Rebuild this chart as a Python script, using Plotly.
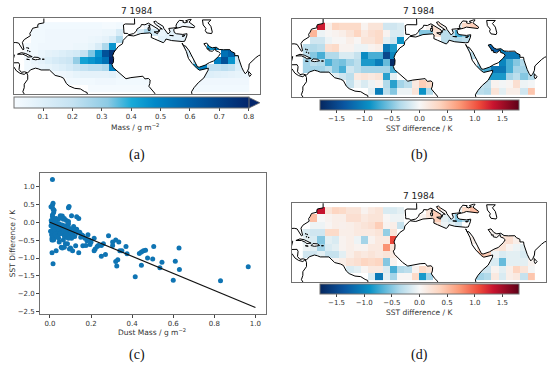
import plotly.graph_objects as go

W, H = 550, 368
_ = None

# ---------- grid (5 degree cells) ----------
lon_centres = [-77.5 + 5 * j for j in range(32)]
lat_centres = [42.5 - 5 * n for n in range(10)]

# ---------- panel (a): dust mass ----------
mass_a = [
 [_,_,.02,.02,.02,.02,.02,.02,.02,.02,.02,.01,.01,.02,_,_,_,.03,.02,.02,_,.02,.02,.02,.02,_,_,_,_,_,_,_],
 [_,.02,.02,.03,.03,.03,.03,.03,.03,.03,.03,.04,.04,.12,_,_,.12,.25,.15,.05,.08,.08,.08,_,_,_,_,_,_,_,_,_],
 [_,.02,.02,.03,.03,.03,.03,.03,.03,.04,.05,.07,.12,.24,_,_,_,_,_,.08,.08,.08,.08,_,_,_,_,_,_,_,_,_],
 [.01,.02,.03,.03,.03,.03,.03,.04,.04,.06,.12,.25,.45,_,_,_,_,_,_,_,_,_,.08,_,_,_,.45,.5,.5,_,_,_],
 [.02,.02,.05,.07,.08,.1,.12,.14,.2,.33,.45,.65,.75,_,_,_,_,_,_,_,_,_,_,.12,_,_,_,_,.55,.6,.3,_],
 [.02,.05,.07,.1,.13,.15,.17,.3,.42,.45,.48,.55,.85,_,_,_,_,_,_,_,_,_,_,_,.25,_,_,.5,.65,.45,.15,.05],
 [.02,.03,.05,.06,.08,.1,.13,.17,.2,.22,.22,.25,.5,_,_,_,_,_,_,_,_,_,_,_,.45,.5,.2,.2,.22,.2,.1,.05],
 [_,_,_,_,.02,.03,.04,.06,.07,.07,.07,.07,.08,.04,_,_,_,_,_,_,_,_,_,_,_,.1,.1,.09,.08,.07,.06,.05],
 [_,_,_,_,_,_,.02,.02,.02,.02,.03,.03,.03,.02,.02,.02,.02,.02,_,_,_,_,_,_,.03,.03,.03,.03,.03,.03,.03,.03],
 [_,_,_,_,_,_,_,_,_,.01,.01,.01,.01,.01,.01,.01,.01,.01,_,_,_,_,_,.02,.02,.02,.02,.02,.02,.02,.02,.02],
]

# ---------- panel (b): SST difference ----------
sst_b = [
 [_,_,1.3,.1,.35,.3,.3,.3,.05,.2,.2,-.2,-.2,-.15,_,_,_,.05,.25,.05,_,-.1,.3,.4,.35,_,_,_,_,_,_,_],
 [_,.55,-.05,.02,.05,.1,.2,.35,.15,.25,.3,.05,-.15,-.15,_,_,-.5,-.5,.2,-.3,-.3,-.7,-.5,_,_,_,_,_,_,_,_,_],
 [_,-.2,-.2,-.05,.02,.02,.1,.02,.2,.2,.3,-.1,-.2,-.9,_,_,_,_,_,-.3,-.3,-.35,-.3,_,_,_,_,_,_,_,_,_],
 [-.3,-.35,-.3,.25,.3,.05,.05,-.05,-.05,.05,.1,-1.1,-.85,_,_,_,_,_,_,_,_,_,-.3,_,_,-1.2,-1.3,-1.0,_,_,_,_],
 [-.3,-.5,-.7,-.35,-.35,-.15,-.15,-.25,-.95,-.7,-.7,-1.5,-1.0,_,_,_,_,_,_,_,_,_,_,-.3,_,_,_,-1.1,-1.1,-1.1,_,_],
 [-.4,-.3,-.35,-.7,-.5,-.55,-.4,-.3,-.85,-.85,-1.05,-.6,-1.75,_,_,_,_,_,_,_,_,_,_,_,-.4,_,_,-1.0,-.7,-.5,-.35,-.2],
 [-.4,-.4,-.4,-.3,-.5,-.7,-.2,-.3,-.4,-.4,-.4,-.4,-.7,_,_,_,_,_,_,_,_,_,_,_,-.6,-.7,-1.1,-1.1,-.7,-.4,-.4,-.2],
 [_,_,_,_,-.1,-.2,-.3,.15,.2,.15,.2,-.8,-.1,_,_,_,_,_,_,_,_,_,_,_,_,-.8,-.85,-.85,-.4,-.3,-.5,-.35],
 [_,_,_,_,_,_,-.25,-.05,-.15,-.05,.05,-.35,-.8,-.4,-.3,.15,.4,.3,_,_,_,_,_,_,-.25,-.3,.05,-.02,.03,.25,-.05,-.02],
 [_,_,_,_,_,_,_,_,_,-.1,-1.05,-.3,-.5,-.05,-.05,.2,-.9,-.35,_,_,_,_,_,-.3,-.3,-.35,.2,-.1,.1,.1,-.2,.45],
]

# ---------- panel (d): SST difference ----------
sst_d = [
 [_,_,1.35,.2,.35,.3,.2,.2,.05,.15,.2,-.15,-.15,-.1,_,_,_,.2,.4,.05,_,-.05,.3,.5,.45,_,_,_,_,_,_,_],
 [_,.5,.0,.05,.1,.1,.25,.25,.15,.2,.2,.02,-.05,-.05,_,_,.05,.2,.4,-.1,-.2,-.5,-.35,_,_,_,_,_,_,_,_,_],
 [_,-.05,-.05,.03,.1,.08,.1,.15,.2,.25,.4,.05,.1,-.25,_,_,_,_,.2,-.05,-.1,-.2,_,_,_,_,_,_,_,_,_,_],
 [-.15,-.2,-.2,.3,.3,.1,.1,.15,.15,.15,.2,-.45,.2,_,_,_,_,_,_,_,_,_,.0,_,_,.05,.05,-.05,_,_,_,_],
 [-.1,-.15,-.5,-.1,-.15,.05,.1,-.05,-.4,.05,.15,.15,1.1,_,_,_,_,_,_,_,_,_,_,.1,_,_,_,.2,.25,.1,_,_],
 [-.05,-.1,-.4,-.15,-.1,.05,.1,.05,.05,.15,.15,.75,.2,_,_,_,_,_,_,_,_,_,_,_,.2,_,.15,.2,.05,-.05,-.1,-.05],
 [-.2,-.2,-.1,-.25,-.25,-.1,.1,.2,.15,.2,.15,.2,.15,_,_,_,_,_,_,_,_,_,_,_,.5,.4,-.05,-.15,-.1,-.1,-.15,-.05],
 [_,_,_,_,.03,.1,.2,.25,.35,.3,.35,-.5,.05,_,_,_,_,_,_,_,_,_,_,_,_,-.1,-.15,-.6,-.1,-.1,-.1,.05],
 [_,_,_,_,_,_,-.15,-.1,.03,.15,.15,-.15,-.7,-.35,-.3,.05,.3,.2,_,_,_,_,_,_,-.2,-.2,.05,-.1,.1,.35,.2,-.02],
 [_,_,_,_,_,_,_,_,_,-.15,-1.1,-.1,-.4,.02,.02,.3,-.85,-.4,_,_,_,_,_,-.4,-.4,-.35,.15,-.15,.1,.15,-.25,.45],
]

# ---------- panel (c): scatter ----------
dust_mass = [
 .012,.015,.005,.012,.015,.02,.018,.012,.09,.093,.105,.13,.14,.05,.06,.03,.04,.07,.08,.09,
 .01,.03,.015,.14,.11,.095,.1,.075,.085,.06,.055,.07,.065,.045,.125,.16,.175,.195,.185,.215,
 .22,.215,.235,.23,.25,.26,.25,.27,.285,.305,.305,.32,.335,.32,.325,.33,.34,.35,.37,.375,
 .415,.435,.445,.445,.455,.465,.475,.5,.505,.535,.545,.6,.61,.628,.63,.83,.965,
 .003,.005,.006,.008,.01,.012,.014,.016,.018,.02,.022,.025,.028,.03,.033,.036,.04,.044,.048,.05,
 .055,.06,.065,.07,.075,.08,.085,.09,.095,.1,.105,.11,.115,.12,.125,.13,.135,.145,.15,.155,
 .008,.012,.016,.02,.024,.028,.032,.038,.042,.046,.052,.058,.064,.07,.076,.082,.088,.094,.1,.11,
 .01,.014,.018,.022,.026,.03,.035,.04,.05,.06,.07,.08,.09,.12,.17,.19,.2,.09,.16,.18,
]
sst_difference = [
 1.19,.53,.43,.47,.37,.33,.27,.2,.4,.44,.18,.15,.1,.18,.17,.1,.08,.1,.05,.02,
 -.85,-.8,-1.16,-.85,-.8,-.75,-.72,-.6,-.6,-.72,-.7,-.7,-.5,-.55,-.66,-.66,-.65,-.62,-.35,-.45,
 -.75,-.8,-.65,-.68,-.65,-.6,-.95,-.9,-.38,-.65,-.55,-.5,-.55,-1.1,-1.22,-1.05,-.8,-.8,-.68,-.88,
 -1.52,-.87,-.83,-1.2,-.8,-.78,-1.0,-1.03,-.68,-1.27,-1.12,-1.62,-1.09,-.72,-1.32,-1.63,-1.24,
 -.25,-.1,.05,-.35,-.45,.15,-.2,-.5,.1,-.3,-.05,-.4,-.15,.02,-.28,-.12,-.35,-.05,-.22,.12,
 -.3,-.18,.08,-.38,-.1,-.42,-.25,-.05,-.32,-.2,-.45,-.3,-.12,-.4,-.25,-.2,-.3,-.28,-.42,-.36,
 .0,-.3,-.42,-.15,.05,-.35,-.1,-.25,-.45,-.05,-.3,-.12,-.28,-.38,-.2,-.32,-.15,-.4,-.28,-.38,
 -.5,-.38,-.48,-.22,-.33,-.08,-.4,-.18,-.32,-.08,-.24,-.34,-.45,-.2,-.45,-.5,-.55,-.15,-.38,-.52,
]
fit_mass = [0.0, 1.0]
fit_diff = [0.0, -2.38]

# ---------- coastlines (lon, lat) ----------
americas = [(-66,50),(-66,44.5),(-70,43.7),(-70.5,42),(-70,41.6),(-74,40.6),(-75,38.5),(-76,37),(-75.6,35.3),
 (-78,33.9),(-80,32.5),(-81.3,30.5),(-80.3,27),(-80.2,25.6),(-81,25.2),(-82.7,27.8),(-84,30),(-86,30.4),(-89,30.2),
 (-89.3,29.1),(-91,29.3),(-97,28),(-97.7,22),(-95,18.6),(-91,18.7),(-90.4,21),(-87,21.5),(-88,17.5),(-88.5,15.8),(-84,15.9),
 (-83.3,14.5),(-83.7,11),(-82,9),(-79.8,9.4),(-77.5,8.6),(-75.5,10.8),(-72,12),(-70,11.5),(-68,10.7),(-62,10.7),
 (-60,8.5),(-58,6.8),(-54,5.8),(-52,4.8),(-50,1),(-48,-0.8),(-44,-2.5),(-40,-2.9),(-37,-4.8),(-35.2,-5.5),(-34.8,-8),(-36,-11),
 (-78,-11),(-79,-8),(-81,-5),(-80,-2),(-80,0.5),(-78.7,2),(-77.5,4),(-77.5,7),(-78.5,8.8),(-80,7.5),(-83,8.3),(-85.5,10),(-87.5,13),
 (-91,14),(-100,16),(-100,50)]
afro_eurasia = [(-1.5,50),(-1.5,46),(-1.3,43.6),(-8,43.7),(-9.3,43),(-9,38.7),(-8.9,37),(-6.3,36.9),(-5.5,36),
 (-2,36.8),(0,38.7),(0.3,40),(3,41.8),(3.5,43.3),(6,43.1),(8.5,44.3),(10.5,43),(12.5,41.5),(15.5,40),(16,38),(16.6,39.5),
 (17,40.4),(18.4,40),(16,41.5),(13.5,43.5),(12.3,45.3),(13.7,45.7),(15,44.5),(19,42),(19.5,40.5),(21,38.5),(22.5,36.5),
 (24,38),(23,40.5),(26,40.8),(29,41.2),(28,42),(28.7,44),(30.5,46.3),(33.5,46),(33,45),(34.5,44.5),(36.5,45.2),(35,46),
 (38,47),(39,47),(37.5,45),(39,44),(41.5,42),(41,41),(36,41.5),(33,42),(31,41.2),(29,40.8),(27,40.3),(26.5,39.5),(27,37.5),
 (28.5,36.7),(30.5,36.5),(33,36.2),(36,36.7),(35.8,35),(35,33),(34.3,31.3),(32.5,31.1),(30,31.4),(25,31.8),(21,32.9),
 (20,31),(19,30.3),(15.5,31.5),(13,32.9),(10.5,34),(10.7,36.5),(9.5,37.3),(3,36.8),(-2,35.1),(-5.5,35.9),(-6,35.6),
 (-9.5,32),(-10,29.5),(-13,27.5),(-16,23.5),(-17,21),(-16.3,19),(-16.5,16),(-17.5,14.7),(-16.7,12.5),(-15,11),(-13,9),
 (-11,6.8),(-7.5,4.4),(-4,5.2),(1,6),(4.5,6.2),(6,4.3),(8.5,4.6),(9.7,3.5),(9.5,1),(8.8,-1),(11,-4),(13,-6),(13.5,-11),
 (39.5,-11),(39.5,-6.5),(39.2,-5),(41,-2),(44,1.5),(48,5),(51,10.5),(51.2,12),(45,10.5),(43.3,11.6),(39.5,15.5),(37,19),
 (35.5,24),(33.5,28),(32.5,30),(33.5,28),(34.8,28),(37.5,24.5),(39,21.5),(41,18),(43,14),(43.5,12.8),(45,12.8),(49,14.2),
 (52,16),(55,17.2),(58.5,20.5),(59.8,22.5),(58.5,23.7),(56.5,24.5),(56.3,26.2),(54,24.1),(51.6,24.5),(51.5,26),(50.5,25.5),
 (50,26.8),(48,29.5),(50,30),(52,27.5),(54,26.6),(56.8,27),(59,25.4),(62,25.2),(66.5,25.3),(67.5,24),(70,22.8),(70,21),
 (72.5,21),(72.8,19),(73.8,15.5),(75,12.5),(76.3,9.8),(77.5,8),(78.8,9.3),(80,12),(80.3,15),(82,16.8),(85,19.5),(87,21),
 (90,22),(100,22),(100,50)]
cuba = [(-84.8,22),(-82,23.1),(-79,22.5),(-75,20.7),(-74.3,20.2),(-77.5,19.9),(-78,20.7),(-81,22)]
hispaniola = [(-74.3,18.5),(-73,19.9),(-70,19.7),(-68.4,18.6),(-70.5,18.2),(-72,18)]
jamaica = [(-78.3,18.4),(-76.3,18.1),(-77,17.8)]
puerto_rico = [(-67.2,18.4),(-65.7,18.4),(-66.2,18)]
bahamas = [(-78,26.6),(-77,26.2),(-77.5,24.5),(-76,24)]
sicily = [(12.5,38),(15.6,38.2),(15,36.7)]
sardinia = [(8.2,41),(9.7,41),(9.5,39),(8.5,39)]
corsica = [(8.7,42.8),(9.5,42.9),(9.3,41.5)]
crete = [(23.6,35.5),(26.3,35.3),(24.5,35)]
cyprus = [(32.4,35),(34.5,35.5),(33.5,34.7)]
sri_lanka = [(79.9,9.6),(81.8,7.5),(80.6,6),(79.9,7.5)]
caspian = [(47,46.6),(53,46.6),(51,44.5),(53,42),(54,38),(53.5,36.8),(50,37.3),(49,39),(49.5,40.5),(47.5,43)]
land_shapes = [americas, afro_eurasia, cuba, hispaniola, jamaica, puerto_rico, sicily, sardinia,
               corsica, crete, cyprus, sri_lanka, caspian]

# ---------- scales and ticks ----------
sst_scale = [[0,"#06275f"],[.12,"#0a55a0"],[.25,"#0a92c6"],[.31,"#4db0d6"],[.4,"#b0d9ea"],[.5,"#f7f7f7"],
             [.6,"#fdd5c0"],[.7,"#fb9a78"],[.8,"#ee4a3a"],[.87,"#c9142f"],[1,"#5e0018"]]
mass_scale = [[0,"#f6fbff"],[.25,"#c4e2f2"],[.4,"#8ccae4"],[.5,"#18aad8"],[.6,"#0088c8"],[.75,"#0060a8"],[1,"#03256b"]]
mass_ticks = [.1,.2,.3,.4,.5,.6,.7,.8]
sst_ticks = [-1.5,-1.0,-.5,0,.5,1.0,1.5]
sst_labels = ["\u22121.5","\u22121.0","\u22120.5","0.0","0.5","1.0","1.5"]

FONT = "DejaVu Sans"
TXT = "#333333"
SPINE = "#707070"
LON = [-87.5, 88]
LAT = [-6.9, 47.7]

def px(x): return x / W
def py(y): return 1 - y / H

fig = go.Figure()
annotations, shapes = [], []

def label(text, cx, cy, size, family=FONT, color=TXT, angle=0):
    annotations.append(dict(text=text, x=px(cx), y=py(cy), xref="paper", yref="paper", showarrow=False,
                            xanchor="center", yanchor="middle", textangle=angle,
                            font=dict(family=family, size=size, color=color)))

def add_map(idx, box, z, scale, zmin, zmax, title, title_y, cbar):
    x0, y0, x1, y1 = box
    xa, ya = f"x{idx}", f"y{idx}"
    fig.update_layout({
        f"xaxis{idx}": dict(domain=[px(x0), px(x1)], range=LON, visible=True, showgrid=False, zeroline=False,
                            showticklabels=False, ticks="", showline=True, mirror=True, linecolor=SPINE, linewidth=1.3, anchor=ya),
        f"yaxis{idx}": dict(domain=[py(y1), py(y0)], range=LAT, showgrid=False, zeroline=False,
                            showticklabels=False, ticks="", showline=True, mirror=True, linecolor=SPINE, linewidth=1.3, anchor=xa),
    })
    fig.add_trace(go.Heatmap(x=lon_centres, y=lat_centres, z=z, colorscale=scale, zmin=zmin, zmax=zmax,
                             xaxis=xa, yaxis=ya, hoverongaps=False, colorbar=cbar))
    for poly in land_shapes:
        xs = [p[0] for p in poly] + [poly[0][0]]
        ys = [p[1] for p in poly] + [poly[0][1]]
        fig.add_trace(go.Scatter(x=xs, y=ys, mode="lines", fill="toself", fillcolor="white",
                                 line=dict(color="black", width=1.0), xaxis=xa, yaxis=ya, showlegend=False, hoverinfo="skip"))
    xs = [p[0] for p in bahamas]; ys = [p[1] for p in bahamas]
    fig.add_trace(go.Scatter(x=xs, y=ys, mode="markers", marker=dict(color="black", size=1.5),
                             xaxis=xa, yaxis=ya, showlegend=False, hoverinfo="skip"))
    label(title, (x0 + x1) / 2, title_y, 9, color="#222222")

def hbar(x0, x1, ytop, thick, ticks, labels):
    return dict(orientation="h", x=px(x0), xanchor="left", y=py(ytop), yanchor="top",
                len=(x1 - x0), lenmode="pixels", thickness=thick, thicknessmode="pixels",
                xpad=0, ypad=0, outlinecolor=SPINE, outlinewidth=1, tickmode="array",
                tickvals=ticks, ticktext=labels, ticks="outside", ticklen=3, tickwidth=.7, tickcolor="#444444",
                tickfont=dict(family=FONT, size=7, color=TXT))

add_map(1, (13.7, 18.5, 260, 95), mass_a, mass_scale, 0, .8, "7 1984", 11,
        hbar(13.7, 248.5, 97.8, 11, mass_ticks, [f"{v:.1f}" for v in mass_ticks]))
add_map(2, (292, 19, 546, 98), sst_b, sst_scale, -1.8, 1.8, "7 1984", 11,
        hbar(320, 518.7, 100.8, 10, sst_ticks, sst_labels))
add_map(3, (292, 204.3, 546, 284), sst_d, sst_scale, -1.8, 1.8, "7 1984", 197,
        hbar(320, 518.7, 286, 10, sst_ticks, sst_labels))

# colourbar titles
label("Mass / g m<sup>\u22122</sup>", 135, 128, 7.5)
label("SST difference / K", 419, 129, 7.5)
label("SST difference / K", 419, 314, 7.5)

# arrow tip of the mass colourbar
shapes.append(dict(type="path", xref="paper", yref="paper", fillcolor="#03256b", line=dict(color=SPINE, width=.8),
    path=f"M {px(248.5)} {py(97.8)} L {px(260)} {py(103.3)} L {px(248.5)} {py(108.8)} Z"))

# scatter panel
fig.add_trace(go.Scatter(x=dust_mass, y=sst_difference, mode="markers",
                         marker=dict(color="#0f74b3", size=5, line=dict(width=0)),
                         xaxis="x4", yaxis="y4", showlegend=False))
fig.add_trace(go.Scatter(x=fit_mass, y=fit_diff, mode="lines", line=dict(color="#111111", width=1.2),
                         xaxis="x4", yaxis="y4", showlegend=False))
axis_common = dict(showgrid=False, zeroline=False, showline=True, mirror=True, linecolor=SPINE, linewidth=1.3,
                   ticks="outside", ticklen=2.5, tickwidth=.7, tickcolor="#444444",
                   tickfont=dict(family=FONT, size=7, color=TXT))
fig.update_layout(
    xaxis4=dict(domain=[px(39.7), px(265.7)], range=[-.05, 1.05], tickvals=[0,.2,.4,.6,.8,1.0],
                ticktext=["0.0","0.2","0.4","0.6","0.8","1.0"], anchor="y4", **axis_common),
    yaxis4=dict(domain=[py(315.7), py(174)], range=[-2.56, 1.37], tickvals=[-2.5,-2,-1.5,-1,-.5,0,.5,1.0],
                ticktext=["\u22122.5","\u22122.0","\u22121.5","\u22121.0","\u22120.5","0.0","0.5","1.0"], anchor="x4",
                **axis_common),
)
label("Dust Mass / g m<sup>\u22122</sup>", 152, 333.5, 7.5)
label("SST Difference / K", 12.5, 245, 7.5, angle=-90)

# panel captions
for text, cx, cy in [("(a)", 137, 156), ("(b)", 419, 156), ("(c)", 137, 357), ("(d)", 419, 357)]:
    label(text, cx, cy, 14, family="Liberation Serif", color="#111111")

fig.update_layout(width=W, height=H, autosize=False, margin=dict(l=0, r=0, t=0, b=0),
                  paper_bgcolor="white", plot_bgcolor="white", showlegend=False,
                  annotations=annotations, shapes=shapes)

fig.write_html("out.html", config={"displayModeBar": False},
               post_script="document.body.style.margin='0';document.documentElement.style.overflow='hidden';")
